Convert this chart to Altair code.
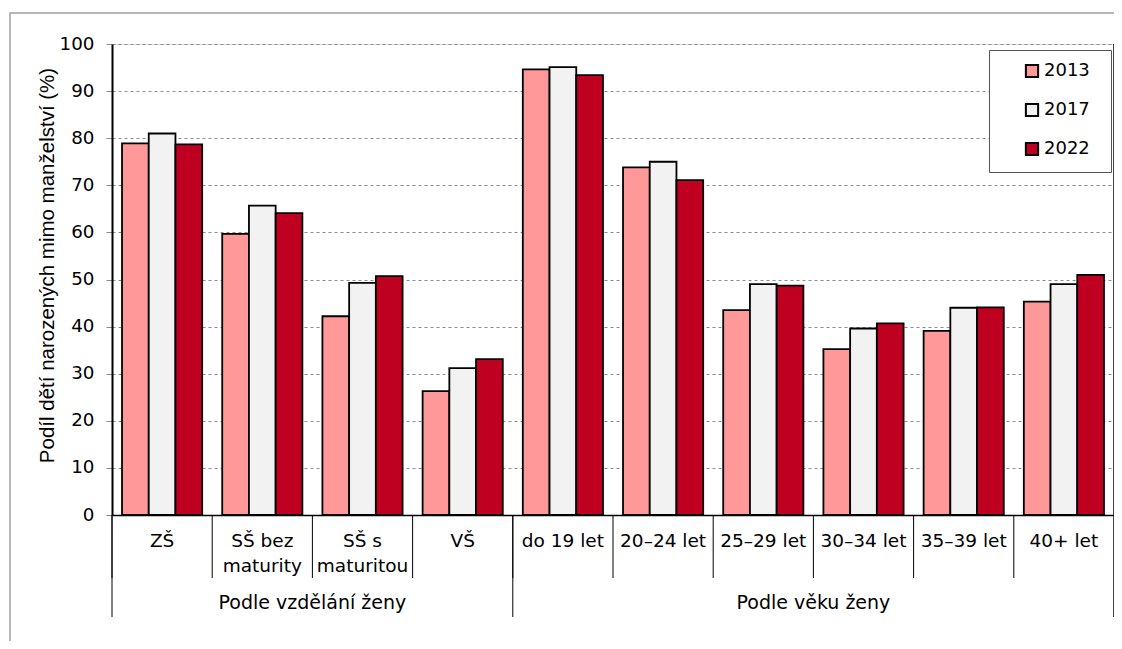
import altair as alt
import pandas as pd

categories = ["ZŠ", "SŠ bez\nmaturity", "SŠ s\nmaturitou", "VŠ", "do 19 let",
              "20–24 let", "25–29 let", "30–34 let", "35–39 let", "40+ let"]
years = ["2013", "2017", "2022"]
v2013 = [78.9, 59.7, 42.2, 26.3, 94.6, 73.8, 43.5, 35.2, 39.1, 45.3]
v2017 = [81.0, 65.7, 49.3, 31.2, 95.1, 75.0, 49.0, 39.6, 44.0, 49.0]
v2022 = [78.7, 64.1, 50.7, 33.1, 93.4, 71.1, 48.7, 40.7, 44.1, 51.0]
colors = ["#FF9999", "#F2F2F2", "#C00020"]
groups = ["Podle vzdělání ženy", "Podle věku ženy"]
group_centre_cat = ["SŠ s\nmaturitou", "30–34 let"]
y_title = "Podíl dětí narozených mimo manželství (%)"

rows = []
for y, vals in zip(years, [v2013, v2017, v2022]):
    for c, v in zip(categories, vals):
        rows.append({"cat": c, "year": y, "value": v})
df = pd.DataFrame(rows)

W, H = 1002, 471
PL = 104
FONT = "DejaVu Sans"
TFONT = "Liberation Sans"

xscale = alt.Scale(domain=categories, paddingInner=0, paddingOuter=0)

bars = alt.Chart(df).mark_bar(stroke="black", strokeWidth=1.8).encode(
    x=alt.X("cat:N", scale=xscale, sort=categories,
            axis=alt.Axis(title=None, labelAngle=0, ticks=False,
                          labelExpr="split(datum.label, '\\n')",
                          labelFontSize=18.5, labelLineHeight=25, labelFont=FONT,
                          labelColor="black", labelPadding=16, labelOverlap=False,
                          domainColor="black", domainWidth=1.5, labelLimit=200)),
    xOffset=alt.XOffset("year:N", sort=years,
                        scale=alt.Scale(paddingInner=0, paddingOuter=0.375)),
    y=alt.Y("value:Q", scale=alt.Scale(domain=[0, 100], nice=False),
            axis=alt.Axis(title=y_title, values=list(range(0, 101, 10)),
                          grid=True, gridColor="#8C8C8C", gridDash=[3, 3],
                          gridWidth=1, tickColor="#8C8C8C", tickSize=6,
                          labelFontSize=18.3, labelFont=FONT, labelColor="black",
                          labelPadding=12, domainColor="black", domainWidth=2,
                          titleFont=TFONT, titleFontSize=20.5, titleFontWeight="normal",
                          titleColor="black", titleX=-55, titleY=221,
                          titleBaseline="bottom")),
    color=alt.Color("year:N", sort=years,
                    scale=alt.Scale(domain=years, range=colors),
                    legend=alt.Legend(title="0", titleOrient="right", titleFontSize=10,
                                      titleOpacity=0, titlePadding=2,
                                      orient="none", legendX=877, legendY=6,
                                      strokeColor="#555555", fillColor="white",
                                      padding=12, symbolType="square", symbolSize=150,
                                      symbolStrokeColor="black", symbolStrokeWidth=2,
                                      labelFontSize=18, labelFont=FONT,
                                      labelColor="black", rowPadding=17,
                                      symbolOffset=22, labelOffset=3)),
)

sep_df = pd.DataFrame({"cat": categories})
short_sep = alt.Chart(sep_df).mark_rule(color="black", strokeWidth=1).encode(
    x=alt.X("cat:N", scale=xscale, sort=categories, bandPosition=0),
    y=alt.value(H), y2=alt.value(H + 63))

long_start = pd.DataFrame({"cat": ["ZŠ", "do 19 let"]})
long_sep = alt.Chart(long_start).mark_rule(color="black", strokeWidth=1).encode(
    x=alt.X("cat:N", scale=xscale, sort=categories, bandPosition=0),
    y=alt.value(H), y2=alt.value(H + 102))

end_df = pd.DataFrame({"cat": ["40+ let"]})
end_sep = alt.Chart(end_df).mark_rule(color="black", strokeWidth=1.5).encode(
    x=alt.X("cat:N", scale=xscale, sort=categories, bandPosition=1),
    y=alt.value(0), y2=alt.value(H + 102))

grp_df = pd.DataFrame({"cat": group_centre_cat, "label": groups})
grp_text = alt.Chart(grp_df).mark_text(fontSize=19, font=FONT, color="black",
                                       baseline="middle").encode(
    x=alt.X("cat:N", scale=xscale, sort=categories, bandPosition=0),
    y=alt.value(H + 88), text="label:N")

frame = alt.Chart(pd.DataFrame({"a": [0]})).mark_rect(
    fill=None, fillOpacity=0, stroke="#A0A0A0", strokeWidth=1.5).encode(
    x=alt.value(-(PL - 2)), x2=alt.value(W + 2), y=alt.value(-31), y2=alt.value(H + 150))

chart = alt.layer(frame, bars, short_sep, long_sep, end_sep, grp_text).properties(
    width=W, height=H,
    autosize=alt.AutoSizeParams(type="none"),
    padding={"left": PL, "top": 36, "right": 0, "bottom": 126},
).configure_view(stroke="black", strokeWidth=1.5).configure(font=FONT)

chart.save("out.html", embed_options={"renderer": "svg", "actions": False})
